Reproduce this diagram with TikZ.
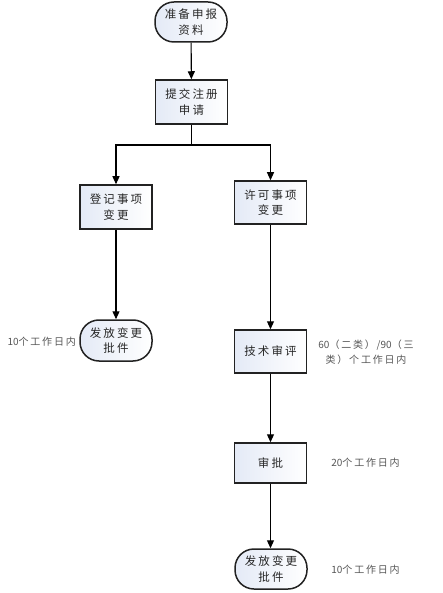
\documentclass[tikz,border=0pt]{standalone}
\usepackage{fontspec}
\newfontfamily\cjk[LetterSpace=18]{Noto Sans CJK SC}
\newfontfamily\cjkplain{Noto Sans CJK SC}
\usetikzlibrary{arrows.meta}
\definecolor{boxline}{HTML}{222222}
\definecolor{boxfill}{HTML}{E4EAF6}
\definecolor{labelgray}{HTML}{555555}
\tikzset{
  base/.style={draw=boxline, line width=1.5pt, left color=boxfill, right color=white,
    font=\cjk\fontsize{11.5}{15.5}\selectfont, text=black!85, align=center, inner sep=0pt},
  procbox/.style={base, rectangle, minimum width=72pt, minimum height=43pt},
  termbox/.style={base, rectangle, rounded corners=19pt, minimum width=72pt, minimum height=40pt},
  lbl/.style={font=\cjk\fontsize{10}{15}\selectfont, text=labelgray, align=center, inner sep=0pt},
  conn/.style={draw=black, line width=1.1pt},
  arr/.style={conn, -{Triangle[length=8pt,width=7pt]}}
}
\newcommand{\dg}[1]{{\cjkplain #1}}
\begin{document}
\begin{tikzpicture}[x=1pt,y=-1pt]
\useasboundingbox (0,0) rectangle (443,593);
\node[termbox] (start) at (191,22) {准备申报\\资料};
\node[procbox, minimum height=44pt] (submit) at (191.5,102) {提交注册\\申请};
\node[procbox, minimum height=44pt] (reg) at (116,207) {登记事项\\变更};
\node[procbox] (lic) at (270.5,202.5) {许可事项\\变更};
\node[termbox, minimum height=41pt] (issueL) at (116,340.5) {发放变更\\批件};
\node[procbox] (tech) at (270.5,351.5) {技术审评};
\node[procbox, minimum height=40pt] (appr) at (270.5,463) {审批};
\node[termbox] (issueR) at (271,569) {发放变更\\批件};

\node[lbl, anchor=east] (l1) at (76,342) {\dg{10}个工作日内};
\node[lbl] (l2) at (366,352.5) {\dg{60}（二类）/\dg{90}（三\\类）个工作日内};
\node[lbl] (l3) at (365.5,463) {\dg{20}个工作日内};
\node[lbl] (l4) at (365.5,570) {\dg{10}个工作日内};

\coordinate (split) at (191.5,145);
\draw[arr] (start) -- (submit);
\draw[conn] (submit) -- (split);
\draw[arr] (split) -| (reg);
\draw[arr] (split) -| (lic);
\draw[arr] (reg) -- (issueL);
\draw[arr] (lic) -- (tech);
\draw[arr] (tech) -- (appr);
\draw[arr] (appr) -- (issueR.north -| appr.south);
\end{tikzpicture}
\end{document}
